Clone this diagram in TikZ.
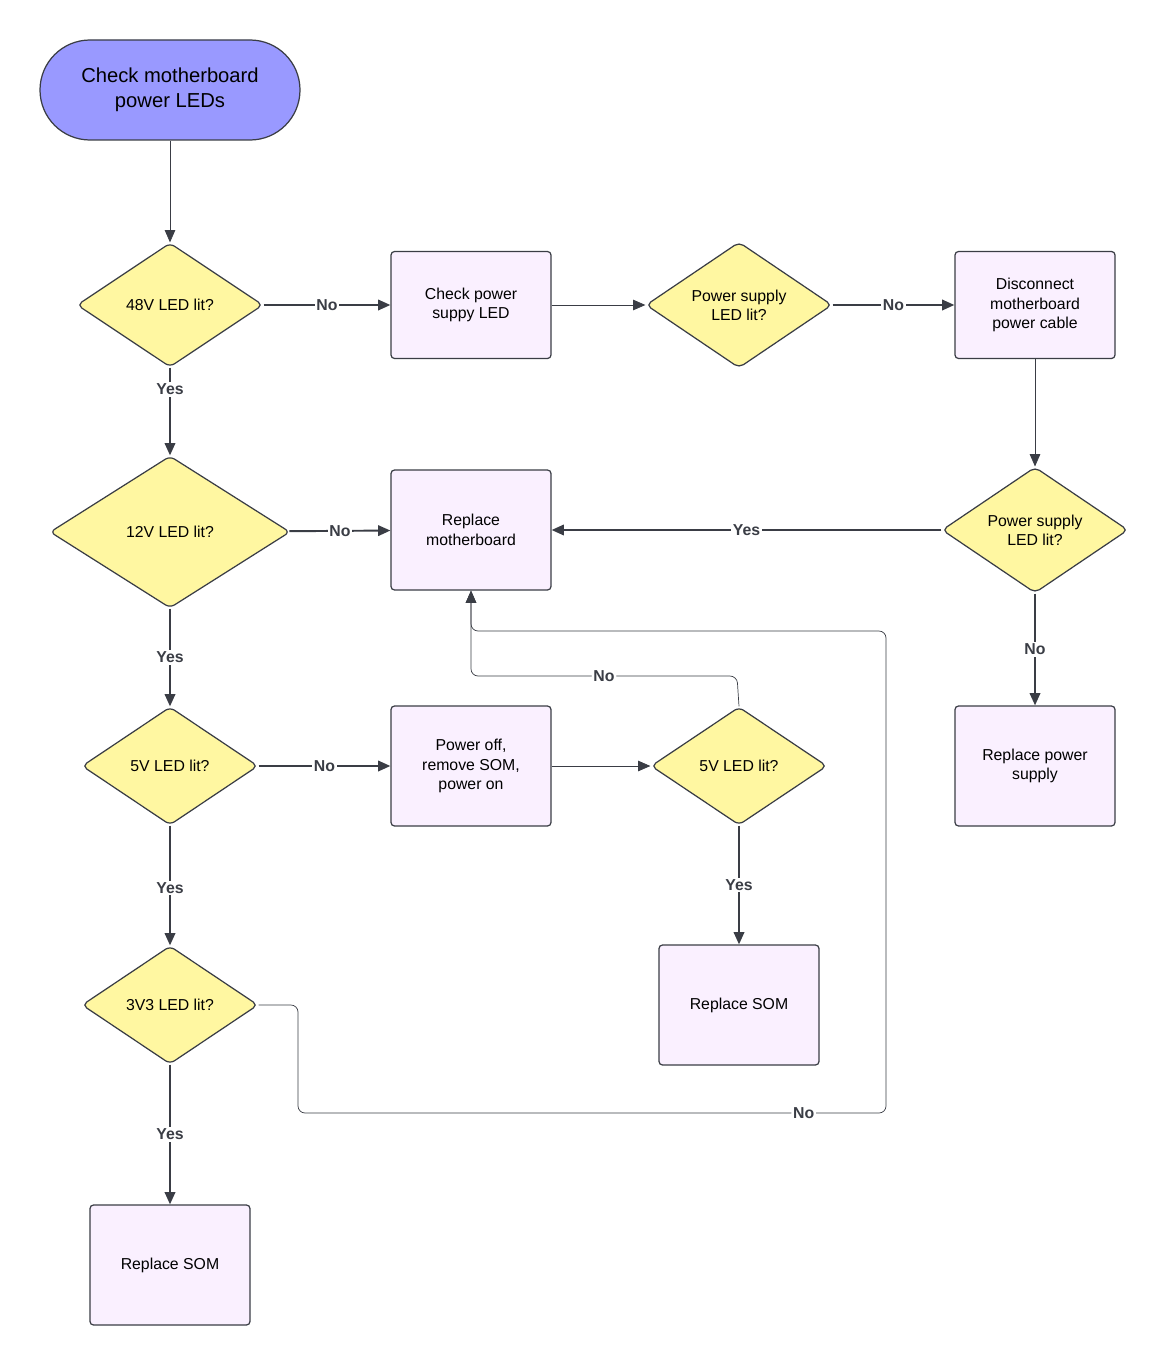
\documentclass[tikz,border=0pt]{standalone}
\usepackage{fontspec}
\setmainfont{Liberation Sans}
\usetikzlibrary{shapes.geometric,arrows.meta,positioning}
\definecolor{startfill}{HTML}{9999FF}
\definecolor{askfill}{HTML}{FFF7A1}
\definecolor{stepfill}{HTML}{FAF0FF}
\definecolor{edgecol}{HTML}{3A3D45}
\begin{document}
\begin{tikzpicture}[x=0.02cm,y=-0.02cm,
		terminal/.style={rectangle,rounded corners=50*0.02cm,draw=edgecol,fill=startfill,
			minimum width=260*0.02cm,minimum height=100*0.02cm,align=center,
			font=\fontsize{11.5}{14}\selectfont,line width=0.7pt},
		decision/.style={diamond,draw=edgecol,fill=askfill,inner sep=0pt,align=center,
			rounded corners=3pt,font=\fontsize{9}{11}\selectfont,line width=0.7pt},
		action/.style={rectangle,draw=edgecol,fill=stepfill,rounded corners=2pt,align=center,
			minimum width=160*0.02cm,minimum height=107*0.02cm,
			font=\fontsize{9}{11}\selectfont,line width=0.7pt},
		flow/.style={draw=edgecol,line width=1.1pt,-{Triangle[length=7pt,width=6pt]}},
		thin flow/.style={draw=edgecol,line width=0.4pt,rounded corners=4pt,-{Triangle[length=7pt,width=6pt]}},
		tag/.style={fill=white,inner sep=1pt,font=\fontsize{9}{11}\selectfont\bfseries,text=edgecol}
	]
	\useasboundingbox (0,0) rectangle (1170,1365);
	% nodes
	\node[terminal] (start) at (170,90) {Check motherboard\\power LEDs};
	\node[decision,minimum width=186*0.02cm,minimum height=124*0.02cm] (led48) at (170,305) {48V LED lit?};
	\node[action] (checkPS) at (471,305) {Check power\\suppy LED};
	\node[decision,minimum width=186*0.02cm,minimum height=124*0.02cm] (psA) at (739,305) {Power supply\\LED lit?};
	\node[action] (disconnect) at (1035,305) {Disconnect\\motherboard\\power cable};
	\node[decision,minimum width=240*0.02cm,minimum height=152*0.02cm] (led12) at (170,532) {12V LED lit?};
	\node[action,minimum height=120*0.02cm] (replaceMB) at (471,530) {Replace\\motherboard};
	\node[decision,minimum width=186*0.02cm,minimum height=124*0.02cm] (psB) at (1035,530) {Power supply\\LED lit?};
	\node[decision,minimum width=176*0.02cm,minimum height=118*0.02cm] (led5) at (170,766) {5V LED lit?};
	\node[action,minimum height=120*0.02cm] (powerOff) at (471,766) {Power off,\\remove SOM,\\power on};
	\node[decision,minimum width=176*0.02cm,minimum height=118*0.02cm] (led5b) at (739,766) {5V LED lit?};
	\node[action,minimum height=120*0.02cm] (replacePS) at (1035,766) {Replace power\\supply};
	\node[decision,minimum width=176*0.02cm,minimum height=118*0.02cm] (led33) at (170,1005) {3V3 LED lit?};
	\node[action,minimum height=120*0.02cm] (somRight) at (739,1005) {Replace SOM};
	\node[action,minimum height=120*0.02cm] (somLeft) at (170,1265) {Replace SOM};
	% connectors
	\draw[thin flow] (start) -- (led48);
	\draw[flow] (led48) -- node[tag]{No} (checkPS);
	\draw[thin flow] (checkPS) -- (psA);
	\draw[flow] (psA) -- node[tag]{No} (disconnect);
	\draw[thin flow] (disconnect) -- (psB);
	\draw[flow] (psB) -- node[tag]{Yes} (replaceMB);
	\draw[flow] (psB) -- node[tag]{No} (replacePS);
	\draw[flow] (led48) -- node[tag,pos=0.25]{Yes} (led12);
	\draw[flow] (led12) -- node[tag]{No} (replaceMB);
	\draw[flow] (led12) -- node[tag]{Yes} (led5);
	\draw[flow] (led5) -- node[tag]{No} (powerOff);
	\draw[thin flow] (powerOff) -- (led5b);
	\draw[flow] (led5b) -- node[tag]{Yes} (somRight);
	\draw[flow] (led5) -- node[tag,pos=0.52]{Yes} (led33);
	\draw[flow] (led33) -- node[tag]{Yes} (somLeft);
	\draw[thin flow] (led5b.north) -- (737,676) -- node[tag]{No} (471,676) -- (replaceMB.south);
	\draw[thin flow] (led33.east) -- (298,1005) -- (298,1113) -- node[tag,pos=0.86]{No} (886,1113)
		-- (886,631) -- (471,631) -- (replaceMB.south);
\end{tikzpicture}
\end{document}
